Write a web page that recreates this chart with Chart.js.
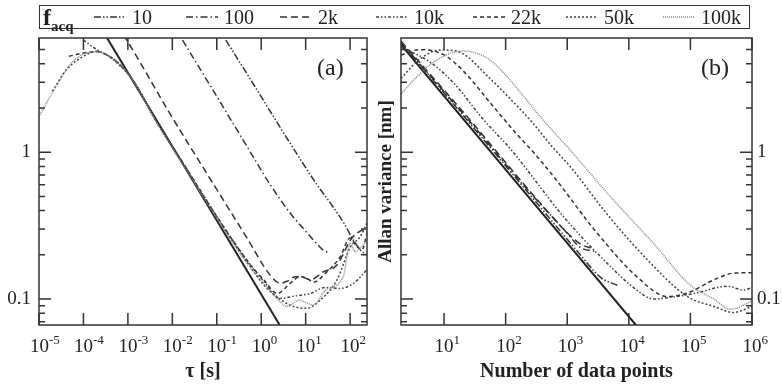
<!DOCTYPE html>
<html>
<head>
<meta charset="utf-8">
<script src="https://cdn.jsdelivr.net/npm/chart.js@4/dist/chart.umd.min.js"></script>
<style>
  body { margin: 0; background: #fff; }
  #scena { position: relative; width: 782px; height: 390px; font-family: 'Liberation Serif', 'DejaVu Serif', serif; color: #222; overflow: hidden; }
  #lewy { position: absolute; left: 0; top: 0; }
  #prawy { position: absolute; left: 372px; top: 0; }
  #legenda { position: absolute; left: 39px; top: 5px; width: 709px; height: 22px; border: 1.5px solid #333; }
  .wpis { position: absolute; top: 0; height: 22px; line-height: 22px; font-size: 20px; white-space: nowrap; }
  .probka { position: absolute; top: 9px; }
  .panel { position: absolute; font-size: 24px; line-height: 24px; }
</style>
</head>
<body>
<div id="scena">
  <canvas id="lewy" width="372" height="390"></canvas>
  <canvas id="prawy" width="410" height="390"></canvas>
  <div id="legenda"></div>
  <div class="panel" style="left:317px; top:55px;">(a)</div>
  <div class="panel" style="left:701px; top:55px;">(b)</div>
</div>
<script>
// --- Dane: panel (a), odchylenie Allana w funkcji tau [s] ---
const tauProsta = [3.4e-4, 2.6];
const sigProsta = [6.0, 0.0665];

const tau10 = [0.16, 0.5, 2, 6, 18, 36, 72, 120, 185, 240];
const sig10 = [5.8, 3.35, 1.7, 1.0, 0.6, 0.45, 0.33, 0.25, 0.21, 0.2];

const tau100 = [0.017, 0.1, 0.5, 1.6, 4.5, 10, 15, 25, 33];
const sig100 = [5.8, 2.4, 1.07, 0.6, 0.384, 0.29, 0.252, 0.215, 0.207];

const tau2k = [8e-4, 1.5e-3, 8.3e-3, 0.086, 0.48, 1.6, 2.7, 4, 5.9, 9, 12.6, 25, 50, 110, 240];
const sig2k = [6.3, 4.6, 1.89, 0.6, 0.26, 0.145, 0.128, 0.133, 0.142, 0.14, 0.135, 0.153, 0.17, 0.26, 0.31];

const tau10k = [1e-4, 2e-4, 6e-4, 1.5e-3, 4.2e-3, 0.02, 0.1, 0.5, 1.14, 2.7, 6, 12.6, 28, 60, 120, 240];
const sig10k = [5.8, 5.0, 4.1, 2.9, 1.66, 0.79, 0.365, 0.18, 0.132, 0.101, 0.105, 0.109, 0.12, 0.118, 0.128, 0.158];

const tau22k = [4.7e-5, 1e-4, 1.9e-4, 6e-4, 1.5e-3, 4.2e-3, 0.02, 0.1, 0.5, 1.14, 2.3, 4.5, 7.6, 10.8, 15, 28, 60, 100, 140, 185, 240];
const sig22k = [4.5, 4.75, 4.85, 4.05, 2.9, 1.66, 0.79, 0.365, 0.18, 0.135, 0.109, 0.128, 0.142, 0.138, 0.13, 0.15, 0.194, 0.26, 0.23, 0.216, 0.28];

const tau50k = [2e-5, 4e-5, 1e-4, 1.9e-4, 6e-4, 1.5e-3, 4.2e-3, 0.02, 0.1, 0.5, 1.14, 3, 6, 10.8, 21, 51, 102, 170, 240];
const sig50k = [2.6, 3.6, 4.5, 4.85, 4.0, 2.88, 1.65, 0.78, 0.36, 0.175, 0.125, 0.097, 0.088, 0.0865, 0.098, 0.135, 0.227, 0.266, 0.33];

const tau100k = [1e-5, 2.8e-5, 6e-5, 1.86e-4, 6.2e-4, 1.5e-3, 4.2e-3, 0.02, 0.1, 0.5, 1.14, 2, 3.85, 7, 15, 28, 70, 100, 130, 180, 240];
const sig100k = [1.75, 3.03, 4.2, 4.85, 4.04, 2.88, 1.64, 0.77, 0.355, 0.172, 0.128, 0.105, 0.089, 0.098, 0.091, 0.115, 0.142, 0.24, 0.21, 0.227, 0.25];

// --- Dane: panel (b), w funkcji liczby punktow N ---
const nProsta = [2, 13000];
const sigNProsta = [5.4, 0.0665];

const n10 = [2, 20, 170, 1000, 1630, 3500, 6500];
const sigN10 = [5.6, 1.8, 0.62, 0.255, 0.2, 0.14, 0.124];

const n100 = [2, 20, 250, 870, 1630, 3000];
const sigN100 = [5.6, 1.85, 0.53, 0.3, 0.225, 0.21];

const n2k = [2, 20, 465, 1120, 1700, 2600];
const sigN2k = [5.7, 1.9, 0.4, 0.27, 0.235, 0.22];

const n10k = [2, 6, 15, 42, 125, 870, 3900, 13500, 25000, 50000, 115000, 400000, 740000, 1e6];
const sigN10k = [5.2, 4.1, 2.9, 1.7, 1.03, 0.364, 0.185, 0.115, 0.1, 0.103, 0.109, 0.122, 0.115, 0.12];

const n22k = [2, 4, 10, 21, 60, 140, 300, 700, 2700, 13500, 42000, 90000, 240000, 500000, 1e6];
const sigN22k = [4.6, 5.0, 4.6, 3.54, 2.1, 1.38, 0.97, 0.63, 0.3, 0.142, 0.104, 0.11, 0.135, 0.15, 0.151];

const n50k = [2, 4, 9, 20, 52, 120, 263, 560, 1170, 4400, 20000, 89000, 240000, 500000, 1e6];
const sigN50k = [3.19, 4.3, 4.98, 4.7, 3.27, 2.3, 1.62, 1.1, 0.78, 0.38, 0.185, 0.104, 0.089, 0.081, 0.089];

const n100k = [2, 4, 8, 20, 40, 62, 150, 380, 1100, 5600, 25000, 100000, 240000, 450000, 1e6];
const sigN100k = [2.5, 3.4, 4.3, 4.9, 4.6, 4.1, 2.75, 1.71, 1.04, 0.473, 0.24, 0.124, 0.1, 0.085, 0.097];

// --- Osie: znaczniki ---
const dekadyA = [1e-5, 1e-4, 1e-3, 1e-2, 1e-1, 1, 10, 100];
const dekadyB = [10, 100, 1e3, 1e4, 1e5, 1e6];
const znacznikiY = [0.07, 0.08, 0.09, 0.1, 0.2, 0.3, 0.4, 0.5, 0.6, 0.7, 0.8, 0.9, 1, 2, 3, 4, 5];
const etykietyY = [0.1, 1];
const zakresY = [0.0665, 6.0];

const etykiety = ['10', '100', '2k', '10k', '22k', '50k', '100k'];

// Style linii (kreski) dla kazdej czestotliwosci
const style = {
  '10':   { kreska: [7, 2, 1.5, 2, 1.5, 2], kolor: '#333' },
  '100':  { kreska: [7, 3, 1.5, 3], kolor: '#333' },
  '2k':   { kreska: [7, 4], kolor: '#333' },
  '10k':  { kreska: [3, 2, 1.5, 2, 1.5, 2], kolor: '#444' },
  '22k':  { kreska: [4, 3], kolor: '#333' },
  '50k':  { kreska: [2, 2], kolor: '#444' },
  '100k': { kreska: [1, 1], kolor: '#888' },
};

const CZCIONKA = "'Liberation Serif', 'DejaVu Serif', serif";
Chart.defaults.font.family = CZCIONKA;
Chart.defaults.color = '#222';

function seria(xs, ys, styl, grubosc) {
  return {
    data: xs.map((x, i) => ({ x: x, y: ys[i] })),
    borderColor: styl.kolor,
    borderWidth: grubosc || 1.5,
    borderDash: styl.kreska,
    pointRadius: 0,
    fill: false,
    cubicInterpolationMode: 'monotone',
  };
}

// Ramka wykresu + znaczniki do srodka + etykiety potegowe osi x (10 z wykladnikiem)
const ramka = {
  id: 'ramka',
  afterDatasetsDraw(chart) {
    const { ctx, chartArea: a, scales } = chart;
    ctx.save();
    ctx.strokeStyle = '#333';
    ctx.lineWidth = 1.5;
    ctx.strokeRect(a.left, a.top, a.right - a.left, a.bottom - a.top);
    ctx.beginPath();
    scales.x.ticks.forEach(t => {
      const px = scales.x.getPixelForValue(t.value);
      ctx.moveTo(px, a.bottom); ctx.lineTo(px, a.bottom - 12);
      ctx.moveTo(px, a.top); ctx.lineTo(px, a.top + 12);
    });
    scales.y.ticks.forEach(t => {
      const py = scales.y.getPixelForValue(t.value);
      const dl = etykietyY.includes(t.value) ? 12 : 6;
      ctx.moveTo(a.left, py); ctx.lineTo(a.left + dl, py);
      ctx.moveTo(a.right, py); ctx.lineTo(a.right - dl, py);
    });
    ctx.stroke();

    // etykiety osi x: "10" + wykladnik w indeksie gornym
    ctx.fillStyle = '#222';
    ctx.textBaseline = 'alphabetic';
    scales.x.ticks.forEach(t => {
      let px = scales.x.getPixelForValue(t.value);
      const wyk = String(Math.round(Math.log10(t.value)));
      ctx.font = '19px ' + CZCIONKA;
      const w = ctx.measureText('10').width;
      if (px - w / 2 < 30) px = 30 + w / 2;
      ctx.textAlign = 'center';
      ctx.fillText('10', px, a.bottom + 27);
      ctx.font = '13px ' + CZCIONKA;
      ctx.textAlign = 'left';
      ctx.fillText(wyk, px + w / 2, a.bottom + 19);
    });
    ctx.restore();
  }
};

function osX(min, max, dekady, tytul) {
  return {
    type: 'logarithmic', min: min, max: max,
    afterBuildTicks: s => { s.ticks = dekady.map(v => ({ value: v })); },
    afterFit: s => { s.height = 65; },
    ticks: { callback: () => '', font: { size: 18 }, padding: 7, maxRotation: 0, autoSkip: false },
    grid: { display: false, drawTicks: false },
    border: { display: false },
    title: { display: true, text: tytul, font: { size: 20, weight: 'bold' }, color: '#222', padding: { top: 0, bottom: 6 } },
  };
}

function osY(pozycja, szerokosc, padding) {
  return {
    type: 'logarithmic', position: pozycja, min: zakresY[0], max: zakresY[1],
    afterBuildTicks: s => { s.ticks = znacznikiY.map(v => ({ value: v })); },
    afterFit: s => { s.width = szerokosc; },
    ticks: { callback: v => etykietyY.includes(v) ? String(v) : '', font: { size: 19 }, color: '#222', padding: padding, autoSkip: false },
    grid: { display: false, drawTicks: false },
    border: { display: false },
  };
}

const wspolne = {
  responsive: false,
  animation: false,
  events: [],
  plugins: { legend: { display: false }, tooltip: { enabled: false } },
};

// --- Panel (a) ---
new Chart(document.getElementById('lewy'), {
  type: 'line',
  data: {
    datasets: [
      seria(tau100k, sig100k, style['100k']),
      seria(tau50k, sig50k, style['50k']),
      seria(tau22k, sig22k, style['22k']),
      seria(tau10k, sig10k, style['10k']),
      seria(tau2k, sig2k, style['2k']),
      seria(tau100, sig100, style['100']),
      seria(tau10, sig10, style['10']),
      seria(tauProsta, sigProsta, { kreska: [], kolor: '#222' }, 2),
    ]
  },
  options: Object.assign({}, wspolne, {
    layout: { padding: { top: 38, right: 5, left: 0, bottom: 0 } },
    scales: {
      x: osX(1e-5, 240, dekadyA, 'τ [s]'),
      y: osY('left', 39, 8),
    }
  }),
  plugins: [ramka]
});

// --- Panel (b) ---
new Chart(document.getElementById('prawy'), {
  type: 'line',
  data: {
    datasets: [
      seria(n100k, sigN100k, style['100k']),
      seria(n50k, sigN50k, style['50k']),
      seria(n22k, sigN22k, style['22k']),
      seria(n10k, sigN10k, style['10k']),
      seria(n2k, sigN2k, style['2k']),
      seria(n100, sigN100, style['100']),
      seria(n10, sigN10, style['10']),
      seria(nProsta, sigNProsta, { kreska: [], kolor: '#222' }, 2),
    ]
  },
  options: Object.assign({}, wspolne, {
    layout: { padding: { top: 38, right: 0, left: 0, bottom: 0 } },
    scales: {
      x: osX(2, 1e6, dekadyB, 'Number of data points'),
      y: osY('right', 30, 5),
      // os tylko z tytulem po lewej stronie
      yTytul: {
        type: 'logarithmic', position: 'left', min: zakresY[0], max: zakresY[1],
        afterFit: s => { s.width = 29; },
        ticks: { display: false },
        grid: { display: false, drawTicks: false },
        border: { display: false },
        title: { display: true, text: 'Allan variance [nm]', font: { size: 19, weight: 'bold' }, color: '#222', padding: { top: 3, bottom: 0 } },
      }
    }
  }),
  plugins: [ramka]
});

// --- Legenda (HTML) ---
const pozycjeLegendy = { '10': 54, '100': 146, '2k': 240, '10k': 336, '22k': 433, '50k': 526, '100k': 623 };
const legenda = document.getElementById('legenda');
const naglowek = document.createElement('div');
naglowek.className = 'wpis';
naglowek.style.left = '3px';
naglowek.style.fontSize = '24px';
naglowek.innerHTML = '<b>f<sub style="font-size:15px">acq</sub></b>';
legenda.appendChild(naglowek);

for (const et of etykiety) {
  const x = pozycjeLegendy[et];
  const st = style[et];
  const svg = document.createElementNS('http://www.w3.org/2000/svg', 'svg');
  svg.setAttribute('width', '32');
  svg.setAttribute('height', '4');
  svg.setAttribute('class', 'probka');
  svg.style.left = x + 'px';
  const linia = document.createElementNS('http://www.w3.org/2000/svg', 'line');
  linia.setAttribute('x1', '0'); linia.setAttribute('y1', '2');
  linia.setAttribute('x2', '32'); linia.setAttribute('y2', '2');
  linia.setAttribute('stroke', st.kolor);
  linia.setAttribute('stroke-width', '1.5');
  linia.setAttribute('stroke-dasharray', st.kreska.join(' '));
  svg.appendChild(linia);
  legenda.appendChild(svg);

  const tekst = document.createElement('div');
  tekst.className = 'wpis';
  tekst.style.left = (x + 38) + 'px';
  tekst.textContent = et;
  legenda.appendChild(tekst);
}
</script>
</body>
</html>
